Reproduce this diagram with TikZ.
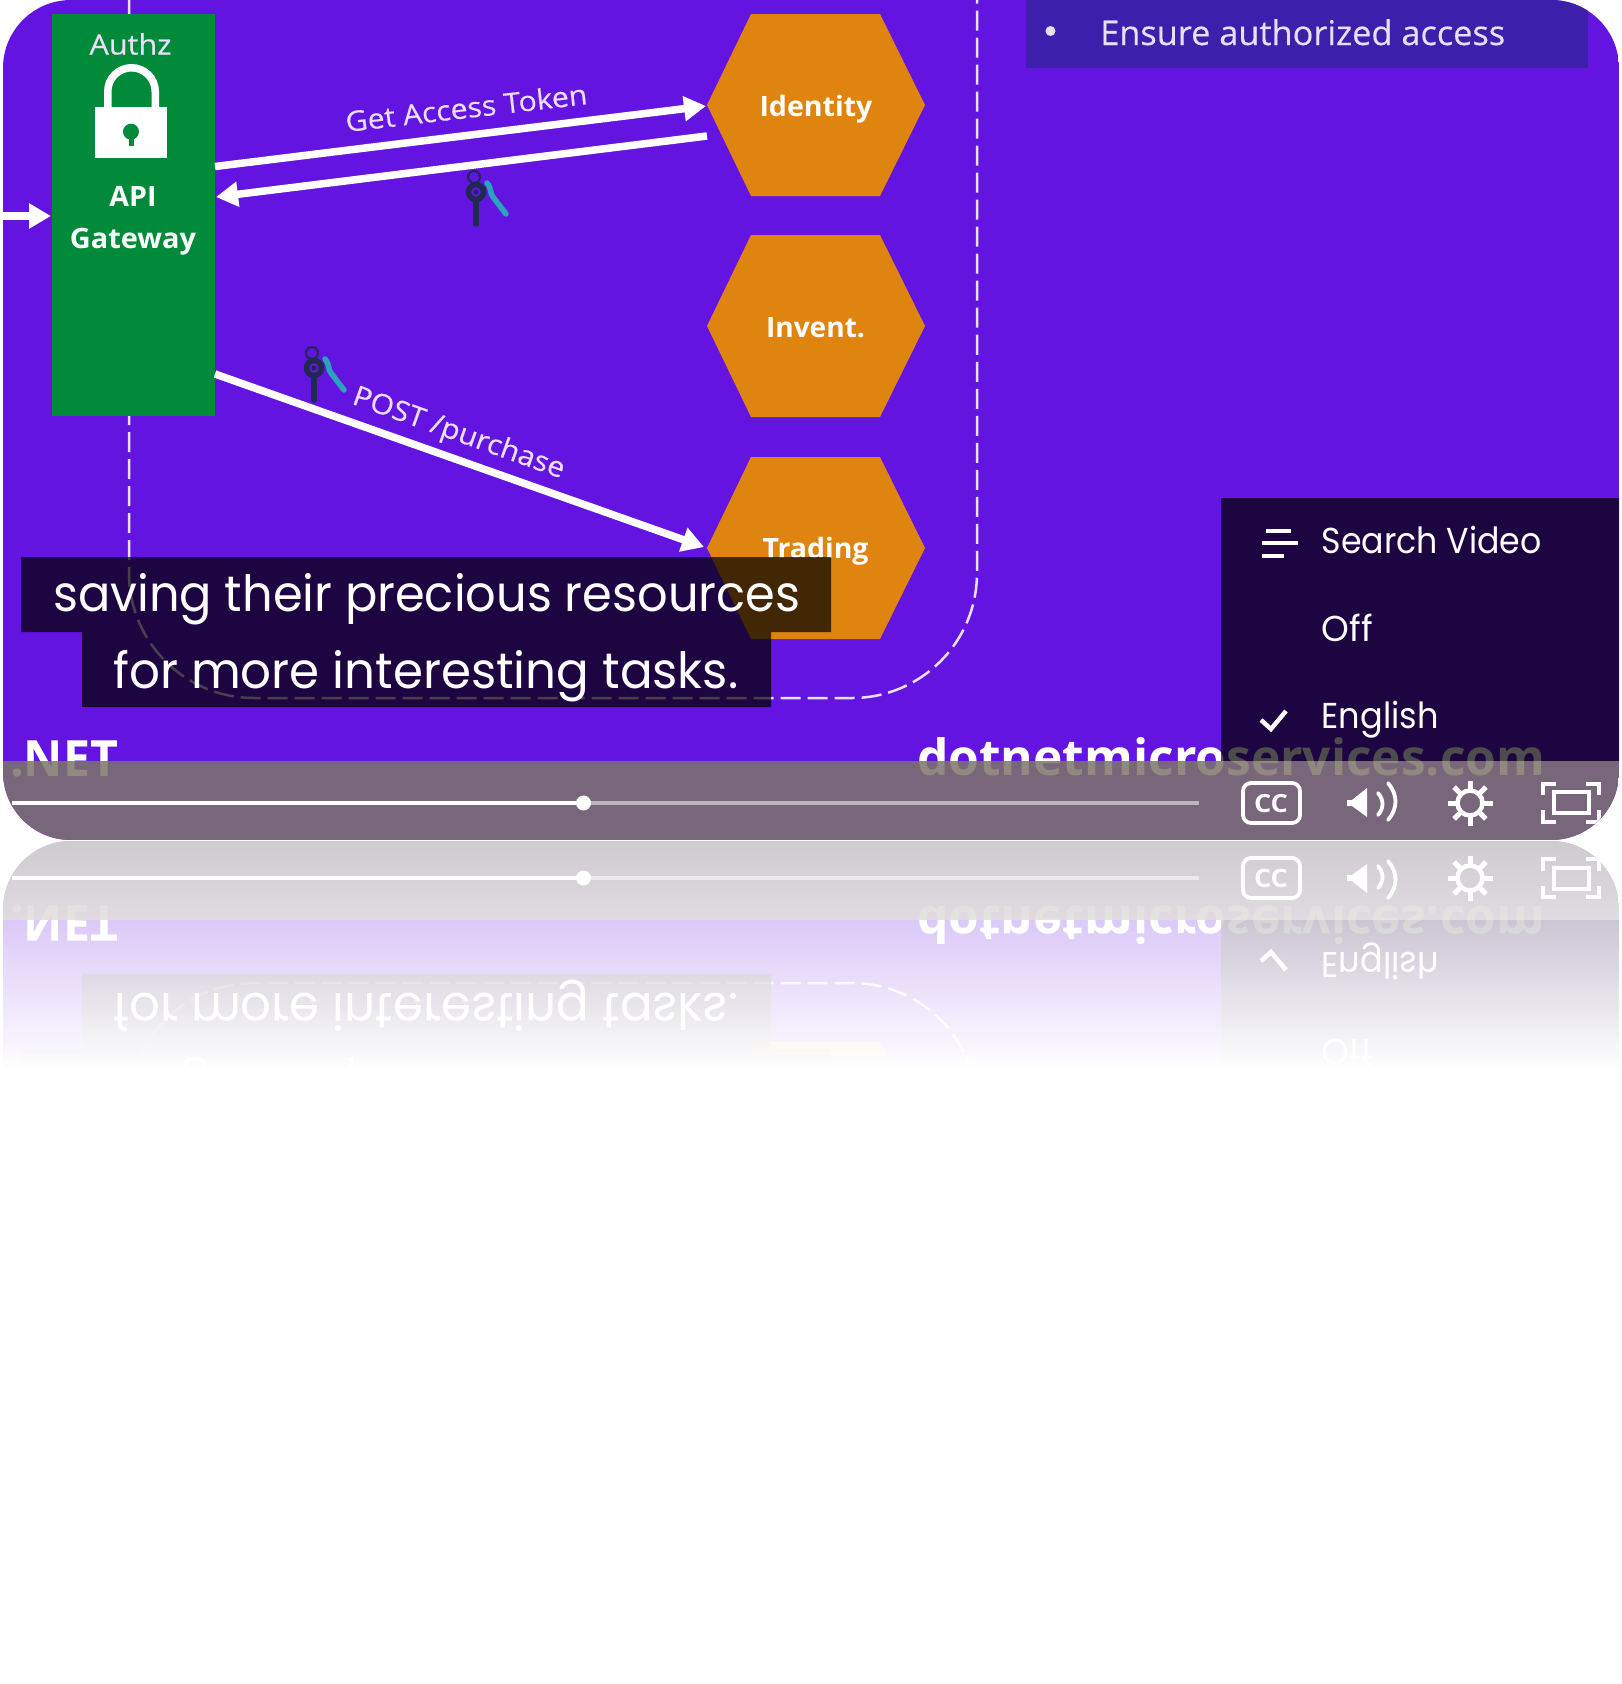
\documentclass[tikz,border=0pt]{standalone}
\usepackage{graphicx}
\usepackage{fontspec}
\usetikzlibrary{arrows.meta,fadings}
\newfontfamily\ofont{Open Sans}
\newfontfamily\ofontheavy[FakeBold=0.35]{Open Sans}
\newfontfamily\capfont{Poppins}
\definecolor{panelpurple}{HTML}{6414E0}
\definecolor{hexorange}{HTML}{E08410}
\definecolor{gwgreen}{HTML}{008A3A}
\definecolor{slidetext}{HTML}{EADFFA}
\definecolor{boxblue}{HTML}{3C20AC}
\definecolor{barcol}{RGB}{124,117,106}
\definecolor{keydark}{HTML}{1E2A50}
\definecolor{keyteal}{HTML}{2AA4BC}
\definecolor{slidergrey}{HTML}{BDB5BE}
\tikzfading[name=reflfade, top color=transparent!35, middle color=transparent!20, bottom color=transparent!0]
\newcommand\fw[2]{\resizebox{#1pt}{\height}{#2}}
\tikzset{
  x=1pt,y=-1pt,
  hexshape/.style={fill=hexorange,draw=none},
  slidelabel/.style={font=\ofontheavy\fontsize{28}{34}\selectfont,text=slidetext,inner sep=0pt,anchor=base},
  hexlabel/.style={font=\ofont\bfseries\fontsize{28}{34}\selectfont,text=white,inner sep=0pt,anchor=base},
  biglabel/.style={font=\ofont\bfseries\fontsize{50}{60}\selectfont,text=white,inner sep=0pt,anchor=base west},
  captext/.style={font=\capfont\fontsize{50}{60}\selectfont,text=white,inner sep=0pt,anchor=base west},
  menutext/.style={font=\capfont\fontsize{36}{44}\selectfont,text=white,inner sep=0pt,anchor=base west},
  capbox/.style={fill=black,fill opacity=.7,draw=none},
  flow/.style={draw=white,line width=7.5pt,-{Triangle[length=22pt,width=24pt]}},
  icon/.style={draw=white,line width=3.8pt},
}
\newcommand\hexagon[2]{% centre y, name
  \fill[hexshape] (707,#1) -- (751,#1-91) -- (880,#1-91) -- (925,#1) -- (880,#1+91) -- (751,#1+91) -- cycle;
  \coordinate (#2) at (816,#1);
}
\newcommand\keyicon[1]{%
  \begin{scope}[shift={(#1)}]
    \draw[keyteal,line width=5.5pt,line cap=round,line join=round] (11,-9) .. controls (16,-3) and (14,2) .. (17,5) -- (30,22);
    \draw[keydark,line width=2pt] (-2,-15) circle[radius=6pt];
    \draw[keydark,line width=5.5pt] (0,0) circle[radius=7.5pt];
    \fill[keydark] (0,0) circle[radius=2.5pt];
    \draw[keydark,line width=5.5pt,line cap=round] (0,9) -- (0,32);
  \end{scope}
}
\newcommand\panelshape{(3,68) [rounded corners=68pt] -- (3,0) -- (1619,0) -- (1619,840) -- (3,840) -- (3,68)}
\newcommand\panelcontent{%
  \fill[panelpurple] (3,0) rectangle (1619,840);
  % dashed boundary
  \draw[slidetext,line width=2.5pt,dash pattern=on 20pt off 7pt,rounded corners=125pt] (129,0) -- (129,698) -- (977,698) -- (977,0);
  % services
  \hexagon{105}{hexA}
  \hexagon{326}{hexB}
  \hexagon{548}{hexC}
  \node[hexlabel] (identity) at (816,116) {\fw{113}{Identity}};
  \node[hexlabel] (invent) at (815.5,337.5) {\fw{99}{Invent.}};
  \node[hexlabel] (trading) at (815.5,558) {\fw{106}{Trading}};
  % gateway
  \node[fill=gwgreen,minimum width=163pt,minimum height=402pt,inner sep=0pt] (gw) at (133.5,215) {};
  \node[slidelabel] (authz) at (130.5,54.5) {\fw{82}{Authz}};
  \draw[white,line width=7.5pt] (107.75,112) -- (107.75,91.5) arc[start angle=180,end angle=0,radius=23.75pt] -- (155.25,112);
  \fill[white] (95,107) rectangle (167,158);
  \fill[gwgreen] (131,131.7) circle[radius=8pt];
  \fill[gwgreen] (128.5,134) rectangle (133.5,146);
  \node[hexlabel] (api) at (133,206) {\fw{47}{API}};
  \node[hexlabel] (gateway) at (133,248) {\fw{126}{Gateway}};
  % ensure box
  \fill[boxblue] (1026,-1) rectangle (1588,68);
  \fill[slidetext] (1050.5,31) circle[radius=5pt];
  \node[slidelabel,anchor=base west,font=\ofontheavy\fontsize{34}{40}\selectfont] (ensure) at (1100,45) {\fw{405}{Ensure authorized access}};
  % connectors
  \coordinate (inA) at (3,216);
  \coordinate (gwInA) at (51,216);
  \coordinate (gwOutA) at (215,166.5);
  \coordinate (hexInA) at (706,106);
  \coordinate (hexOutA) at (707,136);
  \coordinate (gwInB) at (216,197);
  \coordinate (gwOutB) at (215,374);
  \coordinate (hexInC) at (704,547);
  \draw[flow] (inA) -- (gwInA);
  \draw[flow] (gwOutA) -- (hexInA);
  \draw[flow] (hexOutA) -- (gwInB);
  \draw[flow] (gwOutB) -- (hexInC);
  \node[slidelabel,rotate=6.6] (token) at (467.5,118) {\fw{243}{Get Access Token}};
  \node[slidelabel,rotate=-19.6] (post) at (456,441) {\fw{223}{POST /purchase}};
  \keyicon{476,192}
  \keyicon{314,368}
  % bottom slide texts
  \node[biglabel] (net) at (10,776) {\fw{108}{.NET}};
  \node[biglabel] (site) at (917,775) {\fw{628}{dotnetmicroservices.com}};
  % captions
  \path[capbox] (21,557) -- (831,557) -- (831,632) -- (771,632) -- (771,707) -- (82,707) -- (82,632) -- (21,632) -- cycle;
  \node[captext] (capA) at (53,611) {\fw{747}{saving their precious resources}};
  \node[captext] (capB) at (113,688) {\fw{625}{for more interesting tasks.}};
  % menu
  \fill[black,fill opacity=.7] (1221,498) rectangle (1620,761);
  \draw[white,line width=4pt] (1266,530.5) -- (1291,530.5) (1262,543) -- (1298,543) (1262,556) -- (1284,556);
  \draw[white,line width=4.5pt] (1261,720) -- (1271,729) -- (1286,711);
  \node[menutext] (search) at (1321.5,553.5) {\fw{220}{Search Video}};
  \node[menutext] (off) at (1321.5,641.5) {\fw{51}{Off}};
  \node[menutext] (english) at (1321.5,728.5) {\fw{117}{English}};
  % control bar
  \fill[barcol,fill opacity=.85] (3,761) rectangle (1619,840);
  \draw[slidergrey,line width=4.5pt] (583,803) -- (1199,803);
  \draw[white,line width=4.5pt] (12,803) -- (583,803);
  \node[fill=white,circle,minimum size=15pt,inner sep=0pt] (knob) at (583.5,803) {};
  \draw[icon,rounded corners=8pt] (1243,783) rectangle (1300,823);
  \node[inner sep=0pt,anchor=base,text=white,font=\ofont\bfseries\fontsize{25}{30}\selectfont] (cc) at (1271,812) {\fw{34}{CC}};
  \fill[white,line join=round] (1347,800) -- (1352,800) -- (1367,788) -- (1367,817) -- (1352,806) -- (1347,806) -- cycle;
  \draw[icon,line cap=round] (1378,793) .. controls (1384,800) and (1384,808) .. (1378,815);
  \draw[icon,line cap=round] (1388,783) .. controls (1398,795) and (1398,808) .. (1388,820);
  \draw[white,line width=4.5pt] (1470,803) circle[radius=12.5pt];
  \foreach \a in {0,45,...,315}{\draw[white,line width=5pt] (1470,803) ++(\a:13pt) -- ++(\a:9.5pt);}
  \draw[icon] (1543,795) -- (1543,784) -- (1556,784);
  \draw[icon] (1586,784) -- (1599,784) -- (1599,795);
  \draw[icon] (1543,810) -- (1543,822) -- (1556,822);
  \draw[icon] (1586,822) -- (1599,822) -- (1599,810);
  \draw[white,line width=4pt] (1554,792) rectangle (1589,813);
}
\begin{document}
\begin{tikzpicture}
  \useasboundingbox (0,0) rectangle (1622,1684);
  \fill[white] (0,0) rectangle (1622,1684);
  \begin{scope}[cm={1,0,0,-1,(0pt,-1681pt)},every node/.append style={transform shape}]
    \clip \panelshape;
    \panelcontent
  \end{scope}
  \fill[white,path fading=reflfade] (0,841) rectangle (1622,1070);
  \fill[white] (0,1069) rectangle (1622,1684);
  \begin{scope}
    \clip \panelshape;
    \panelcontent
  \end{scope}
\end{tikzpicture}
\end{document}
